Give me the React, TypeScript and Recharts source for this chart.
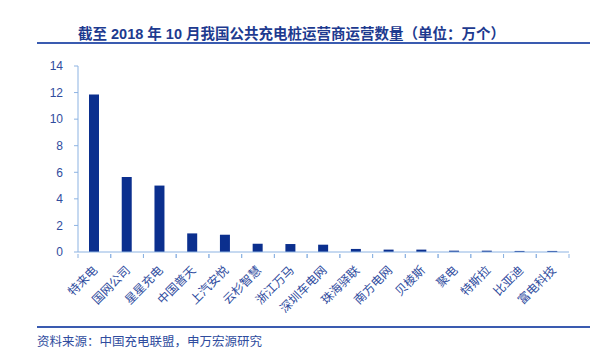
import { BarChart, Bar, XAxis, YAxis } from "recharts"

const operators = [
  "特来电",
  "国网公司",
  "星星充电",
  "中国普天",
  "上汽安悦",
  "云杉智慧",
  "浙江万马",
  "深圳车电网",
  "珠海驿联",
  "南方电网",
  "贝棱斯",
  "聚电",
  "特斯拉",
  "比亚迪",
  "富电科技",
]

const counts = [11.85, 5.65, 5.0, 1.4, 1.3, 0.63, 0.6, 0.55, 0.23, 0.18, 0.18, 0.1, 0.1, 0.08, 0.08]

const yTicks = [0, 2, 4, 6, 8, 10, 12, 14]

const data = operators.map((name, i) => ({ name, value: counts[i] }))

const FONT = '"Liberation Sans", "Noto Sans CJK SC", sans-serif'
const AXIS = "#8db3e2"
const TEXT = "#2f4c9e"
const NAVY = "#0b2f8e"

function CategoryTick(props: any) {
  const { x, y, payload } = props
  const half = payload?.offset ?? 16.3
  const ax = x + 4
  const ay = y + 9
  return (
    <g>
      <line x1={x - half} y1={y - 8} x2={x - half} y2={y - 4} stroke={AXIS} />
      <line x1={x + half} y1={y - 8} x2={x + half} y2={y - 4} stroke={AXIS} />
      <text
        x={ax}
        y={ay}
        textAnchor="end"
        fontSize={12}
        fill={TEXT}
        fontFamily={FONT}
        transform={`rotate(-45, ${ax}, ${ay})`}
      >
        {payload.value}
      </text>
    </g>
  )
}

export default function App() {
  return (
    <div style={{ position: "fixed", left: 0, top: 0, width: 600, height: 356, background: "#fff", fontFamily: FONT }}>
      <div
        style={{
          position: "absolute",
          left: 78,
          top: 23,
          fontSize: 14.5,
          fontWeight: "bold",
          color: "#1d3a8f",
          whiteSpace: "nowrap",
          lineHeight: "22px",
        }}
      >
        截至 2018 年 10 月我国公共充电桩运营商运营数量（单位：万个）
      </div>
      <div style={{ position: "absolute", left: 37, top: 42, width: 553, height: 2, background: "#3a5bb0" }} />

      <BarChart
        width={600}
        height={356}
        data={data}
        margin={{ top: 66, right: 31, left: 0, bottom: 44 }}
        style={{ position: "absolute", left: 0, top: 0 }}
      >
        <XAxis
          dataKey="name"
          interval={0}
          height={60}
          stroke={AXIS}
          tickLine={false}
          tick={<CategoryTick />}
          tickSize={8}
        />
        <YAxis
          domain={[0, 14]}
          ticks={yTicks}
          width={78}
          stroke={AXIS}
          tickSize={4}
          tickMargin={11}
          tick={{ fontSize: 12, fill: TEXT, fontFamily: FONT }}
        />
        <Bar dataKey="value" fill={NAVY} barSize={10} isAnimationActive={false} />
      </BarChart>

      <div style={{ position: "absolute", left: 37, top: 326, width: 553, height: 2, background: "#3a5bb0" }} />
      <div
        style={{
          position: "absolute",
          left: 37,
          top: 333,
          fontSize: 12.5,
          color: TEXT,
          whiteSpace: "nowrap",
          lineHeight: "18px",
        }}
      >
        资料来源：中国充电联盟，申万宏源研究
      </div>
    </div>
  )
}
